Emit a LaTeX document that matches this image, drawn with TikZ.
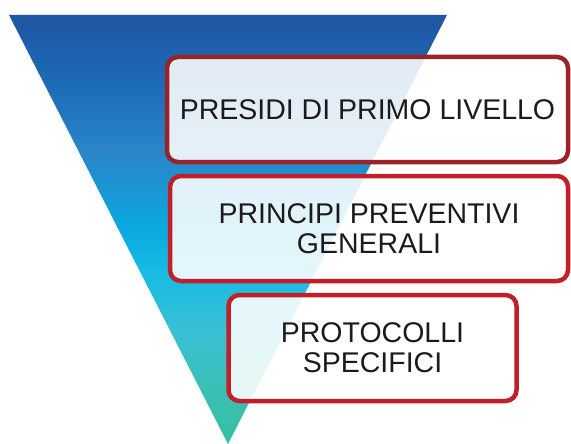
\documentclass[tikz,border=0pt]{standalone}
\usepackage{fontspec}
\setmainfont{Liberation Sans}
\definecolor{boxdark}{HTML}{9A2327}
\definecolor{boxred}{HTML}{C1202A}
\definecolor{textgray}{HTML}{1E1A1B}
\definecolor{shA}{HTML}{34C1A0}
\definecolor{shB}{HTML}{3BBFB4}
\definecolor{shC}{HTML}{38C0D4}
\definecolor{shD}{HTML}{18BCE3}
\definecolor{shE}{HTML}{0AA9E0}
\definecolor{shF}{HTML}{2A86C9}
\definecolor{shG}{HTML}{1C6BB6}
\definecolor{shH}{HTML}{1F56A3}
% stops between 25bp and 75bp fill the shape
\pgfdeclareverticalshading{funnel}{100bp}{%
  color(0bp)=(shA); color(25bp)=(shA); color(31bp)=(shB); color(38bp)=(shC);
  color(45bp)=(shD); color(50bp)=(shE); color(59bp)=(shF);
  color(67bp)=(shG); color(75bp)=(shH); color(100bp)=(shH)}
\begin{document}
\begin{tikzpicture}[x=1pt,y=-1pt]
    \tikzset{levelbox/.style={draw, line width=4.5pt, rounded corners=11pt, fill=white, fill opacity=0.88, text opacity=1, align=center, text=textgray, font=\fontsize{28.5}{30}\selectfont}};
    \useasboundingbox (0,0) rectangle (571,444);
    \shade[shading=funnel] (9,15) -- (447,15) -- (228,444) -- cycle;
    \node[levelbox, draw=boxdark, minimum width=401pt, minimum height=105pt] (presidi) at (367.5,109.5) {PRESIDI DI PRIMO LIVELLO};
    \node[levelbox, draw=boxred, minimum width=398pt, minimum height=105pt] (principi) at (369,228.5) {PRINCIPI PREVENTIVI\\GENERALI};
    \node[levelbox, draw=boxred, minimum width=288pt, minimum height=106pt] (protocolli) at (372.5,348) {PROTOCOLLI\\SPECIFICI};
\end{tikzpicture}
\end{document}
